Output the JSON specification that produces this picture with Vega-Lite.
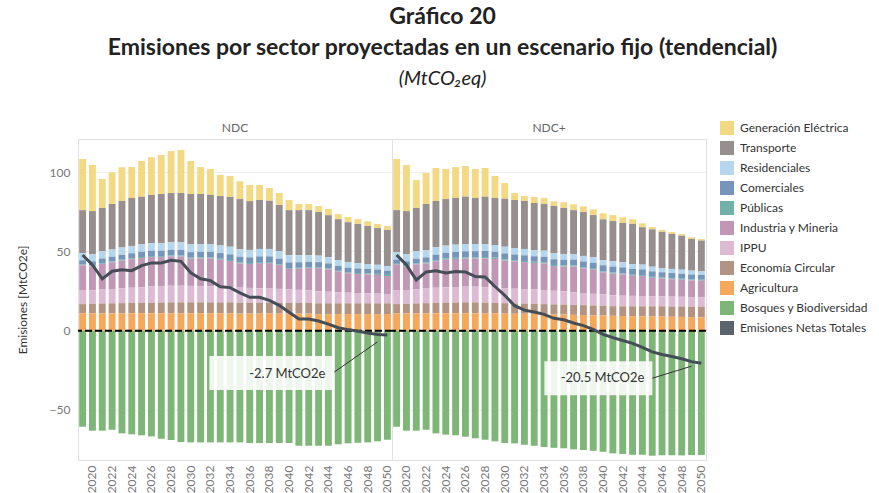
{
  "$schema": "https://vega.github.io/schema/vega-lite/v6.json",
  "background": "white",
  "padding": {"left": 16, "top": 6, "right": 5, "bottom": 0},
  "bounds": "flush",
  "title": {
    "text": ["Gráfico 20", "Emisiones por sector proyectadas en un escenario fijo (tendencial)"],
    "subtitle": "(MtCO₂eq)",
    "anchor": "middle",
    "font": "Lato", "fontSize": 23, "fontWeight": "bold", "color": "#222", "lineHeight": 31,
    "subtitleFont": "Lato", "subtitleFontSize": 20, "subtitleFontStyle": "italic", "subtitleColor": "#222", "subtitlePadding": 9,
    "offset": 32
  },
  "data": {"values": [
    {"esc":"NDC","anio":2019,"Generación Eléctrica":32.3,"Transporte":27.2,"Residenciales":4.4,"Comerciales":2.7,"Públicas":0.5,"Industria y Mineria":16.0,"IPPU":8.5,"Economía Circular":5.8,"Agricultura":11.0,"Bosques y Biodiversidad":-60.6,"Emisiones Netas Totales":47.8},
    {"esc":"NDC","anio":2020,"Generación Eléctrica":29.1,"Transporte":27.3,"Residenciales":4.4,"Comerciales":2.8,"Públicas":0.5,"Industria y Mineria":14.9,"IPPU":8.6,"Economía Circular":6.0,"Agricultura":11.0,"Bosques y Biodiversidad":-63.1,"Emisiones Netas Totales":41.5},
    {"esc":"NDC","anio":2021,"Generación Eléctrica":18.3,"Transporte":27.4,"Residenciales":4.5,"Comerciales":2.9,"Públicas":0.5,"Industria y Mineria":16.2,"IPPU":8.8,"Economía Circular":6.2,"Agricultura":11.0,"Bosques y Biodiversidad":-63.1,"Emisiones Netas Totales":32.7},
    {"esc":"NDC","anio":2022,"Generación Eléctrica":20.0,"Transporte":28.8,"Residenciales":4.5,"Comerciales":3.0,"Públicas":0.5,"Industria y Mineria":16.9,"IPPU":9.0,"Economía Circular":6.3,"Agricultura":11.0,"Bosques y Biodiversidad":-62.5,"Emisiones Netas Totales":37.5},
    {"esc":"NDC","anio":2023,"Generación Eléctrica":21.3,"Transporte":29.4,"Residenciales":4.6,"Comerciales":3.1,"Públicas":0.5,"Industria y Mineria":17.6,"IPPU":9.3,"Economía Circular":6.4,"Agricultura":11.0,"Bosques y Biodiversidad":-64.8,"Emisiones Netas Totales":38.4},
    {"esc":"NDC","anio":2024,"Generación Eléctrica":19.5,"Transporte":30.3,"Residenciales":4.6,"Comerciales":3.2,"Públicas":0.5,"Industria y Mineria":18.1,"IPPU":9.6,"Economía Circular":6.5,"Agricultura":11.0,"Bosques y Biodiversidad":-65.4,"Emisiones Netas Totales":37.9},
    {"esc":"NDC","anio":2025,"Generación Eléctrica":22.6,"Transporte":30.0,"Residenciales":4.7,"Comerciales":3.3,"Públicas":0.6,"Industria y Mineria":18.4,"IPPU":9.9,"Economía Circular":6.6,"Agricultura":11.0,"Bosques y Biodiversidad":-66.0,"Emisiones Netas Totales":41.1},
    {"esc":"NDC","anio":2026,"Generación Eléctrica":23.8,"Transporte":30.4,"Residenciales":4.8,"Comerciales":3.4,"Públicas":0.6,"Industria y Mineria":18.6,"IPPU":10.2,"Economía Circular":6.7,"Agricultura":11.0,"Bosques y Biodiversidad":-66.7,"Emisiones Netas Totales":42.8},
    {"esc":"NDC","anio":2027,"Generación Eléctrica":24.6,"Transporte":31.0,"Residenciales":4.8,"Comerciales":3.4,"Públicas":0.6,"Industria y Mineria":18.3,"IPPU":10.4,"Economía Circular":6.8,"Agricultura":11.0,"Bosques y Biodiversidad":-68.2,"Emisiones Netas Totales":42.7},
    {"esc":"NDC","anio":2028,"Generación Eléctrica":26.5,"Transporte":31.0,"Residenciales":4.9,"Comerciales":3.5,"Públicas":0.6,"Industria y Mineria":18.5,"IPPU":10.5,"Economía Circular":6.9,"Agricultura":11.0,"Bosques y Biodiversidad":-69.0,"Emisiones Netas Totales":44.4},
    {"esc":"NDC","anio":2029,"Generación Eléctrica":27.2,"Transporte":31.0,"Residenciales":4.9,"Comerciales":3.5,"Públicas":0.7,"Industria y Mineria":18.4,"IPPU":10.5,"Economía Circular":6.9,"Agricultura":11.0,"Bosques y Biodiversidad":-70.3,"Emisiones Netas Totales":43.8},
    {"esc":"NDC","anio":2030,"Generación Eléctrica":20.8,"Transporte":31.8,"Residenciales":4.9,"Comerciales":3.5,"Públicas":0.6,"Industria y Mineria":17.2,"IPPU":10.4,"Economía Circular":6.9,"Agricultura":11.0,"Bosques y Biodiversidad":-70.5,"Emisiones Netas Totales":36.6},
    {"esc":"NDC","anio":2031,"Generación Eléctrica":17.0,"Transporte":31.6,"Residenciales":4.9,"Comerciales":3.5,"Públicas":0.6,"Industria y Mineria":17.5,"IPPU":10.3,"Economía Circular":6.9,"Agricultura":11.0,"Bosques y Biodiversidad":-70.5,"Emisiones Netas Totales":32.8},
    {"esc":"NDC","anio":2032,"Generación Eléctrica":16.4,"Transporte":31.0,"Residenciales":4.9,"Comerciales":3.5,"Públicas":0.6,"Industria y Mineria":17.7,"IPPU":10.1,"Economía Circular":6.9,"Agricultura":11.0,"Bosques y Biodiversidad":-70.5,"Emisiones Netas Totales":31.6},
    {"esc":"NDC","anio":2033,"Generación Eléctrica":13.3,"Transporte":31.2,"Residenciales":4.8,"Comerciales":3.6,"Públicas":0.6,"Industria y Mineria":17.0,"IPPU":9.9,"Economía Circular":6.9,"Agricultura":11.0,"Bosques y Biodiversidad":-70.5,"Emisiones Netas Totales":27.8},
    {"esc":"NDC","anio":2034,"Generación Eléctrica":13.3,"Transporte":31.4,"Residenciales":4.8,"Comerciales":3.6,"Públicas":0.6,"Industria y Mineria":16.4,"IPPU":9.7,"Economía Circular":6.9,"Agricultura":11.0,"Bosques y Biodiversidad":-70.5,"Emisiones Netas Totales":27.2},
    {"esc":"NDC","anio":2035,"Generación Eléctrica":11.3,"Transporte":31.6,"Residenciales":4.8,"Comerciales":3.6,"Públicas":0.6,"Industria y Mineria":15.3,"IPPU":9.5,"Economía Circular":6.9,"Agricultura":10.8,"Bosques y Biodiversidad":-70.5,"Emisiones Netas Totales":23.9},
    {"esc":"NDC","anio":2036,"Generación Eléctrica":10.2,"Transporte":30.8,"Residenciales":4.7,"Comerciales":3.6,"Públicas":0.6,"Industria y Mineria":15.1,"IPPU":9.3,"Economía Circular":6.9,"Agricultura":10.8,"Bosques y Biodiversidad":-70.9,"Emisiones Netas Totales":21.1},
    {"esc":"NDC","anio":2037,"Generación Eléctrica":9.5,"Transporte":30.9,"Residenciales":4.7,"Comerciales":3.6,"Públicas":0.6,"Industria y Mineria":15.9,"IPPU":9.1,"Economía Circular":6.9,"Agricultura":10.8,"Bosques y Biodiversidad":-70.9,"Emisiones Netas Totales":21.1},
    {"esc":"NDC","anio":2038,"Generación Eléctrica":8.1,"Transporte":30.4,"Residenciales":4.7,"Comerciales":3.6,"Públicas":0.6,"Industria y Mineria":16.1,"IPPU":8.9,"Economía Circular":6.9,"Agricultura":10.8,"Bosques y Biodiversidad":-70.9,"Emisiones Netas Totales":19.2},
    {"esc":"NDC","anio":2039,"Generación Eléctrica":7.5,"Transporte":29.2,"Residenciales":4.7,"Comerciales":3.6,"Públicas":0.5,"Industria y Mineria":15.0,"IPPU":8.7,"Economía Circular":6.9,"Agricultura":10.8,"Bosques y Biodiversidad":-70.9,"Emisiones Netas Totales":16.0},
    {"esc":"NDC","anio":2040,"Generación Eléctrica":6.4,"Transporte":28.4,"Residenciales":4.6,"Comerciales":3.6,"Públicas":0.5,"Industria y Mineria":13.0,"IPPU":8.4,"Economía Circular":6.8,"Agricultura":10.8,"Bosques y Biodiversidad":-70.9,"Emisiones Netas Totales":11.6},
    {"esc":"NDC","anio":2041,"Generación Eléctrica":3.9,"Transporte":28.4,"Residenciales":4.5,"Comerciales":3.5,"Públicas":0.5,"Industria y Mineria":13.4,"IPPU":8.2,"Economía Circular":6.8,"Agricultura":10.8,"Bosques y Biodiversidad":-72.6,"Emisiones Netas Totales":7.4},
    {"esc":"NDC","anio":2042,"Generación Eléctrica":3.9,"Transporte":28.4,"Residenciales":4.3,"Comerciales":3.4,"Públicas":0.5,"Industria y Mineria":14.0,"IPPU":7.9,"Economía Circular":6.8,"Agricultura":10.8,"Bosques y Biodiversidad":-72.6,"Emisiones Netas Totales":7.4},
    {"esc":"NDC","anio":2043,"Generación Eléctrica":3.8,"Transporte":27.5,"Residenciales":4.1,"Comerciales":3.3,"Públicas":0.5,"Industria y Mineria":14.6,"IPPU":7.6,"Economía Circular":6.8,"Agricultura":10.5,"Bosques y Biodiversidad":-72.6,"Emisiones Netas Totales":6.1},
    {"esc":"NDC","anio":2044,"Generación Eléctrica":3.9,"Transporte":26.5,"Residenciales":3.9,"Comerciales":3.2,"Públicas":0.5,"Industria y Mineria":14.2,"IPPU":7.3,"Economía Circular":6.8,"Agricultura":10.5,"Bosques y Biodiversidad":-72.6,"Emisiones Netas Totales":4.2},
    {"esc":"NDC","anio":2045,"Generación Eléctrica":3.2,"Transporte":25.8,"Residenciales":3.7,"Comerciales":3.1,"Públicas":0.5,"Industria y Mineria":13.0,"IPPU":7.0,"Economía Circular":6.8,"Agricultura":10.5,"Bosques y Biodiversidad":-71.7,"Emisiones Netas Totales":1.9},
    {"esc":"NDC","anio":2046,"Generación Eléctrica":3.3,"Transporte":25.2,"Residenciales":3.5,"Comerciales":3.0,"Públicas":0.5,"Industria y Mineria":12.3,"IPPU":6.7,"Economía Circular":6.8,"Agricultura":10.5,"Bosques y Biodiversidad":-71.1,"Emisiones Netas Totales":0.7},
    {"esc":"NDC","anio":2047,"Generación Eléctrica":3.0,"Transporte":24.8,"Residenciales":3.3,"Comerciales":2.9,"Públicas":0.6,"Industria y Mineria":12.0,"IPPU":6.5,"Economía Circular":6.8,"Agricultura":10.5,"Bosques y Biodiversidad":-70.7,"Emisiones Netas Totales":-0.3},
    {"esc":"NDC","anio":2048,"Generación Eléctrica":3.0,"Transporte":24.0,"Residenciales":3.1,"Comerciales":2.8,"Públicas":0.6,"Industria y Mineria":12.0,"IPPU":6.3,"Economía Circular":6.8,"Agricultura":10.5,"Bosques y Biodiversidad":-70.5,"Emisiones Netas Totales":-1.4},
    {"esc":"NDC","anio":2049,"Generación Eléctrica":2.6,"Transporte":23.2,"Residenciales":3.0,"Comerciales":2.7,"Públicas":0.7,"Industria y Mineria":11.8,"IPPU":6.1,"Economía Circular":6.8,"Agricultura":10.5,"Bosques y Biodiversidad":-69.8,"Emisiones Netas Totales":-2.4},
    {"esc":"NDC","anio":2050,"Generación Eléctrica":2.5,"Transporte":22.8,"Residenciales":2.9,"Comerciales":2.7,"Públicas":0.7,"Industria y Mineria":11.3,"IPPU":5.9,"Economía Circular":6.8,"Agricultura":10.5,"Bosques y Biodiversidad":-68.8,"Emisiones Netas Totales":-2.7,"etiqueta":"-2.7 MtCO2e"},
    {"esc":"NDC+","anio":2019,"Generación Eléctrica":32.3,"Transporte":26.6,"Residenciales":4.6,"Comerciales":2.7,"Públicas":0.5,"Industria y Mineria":16.4,"IPPU":8.5,"Economía Circular":5.8,"Agricultura":11.0,"Bosques y Biodiversidad":-60.6,"Emisiones Netas Totales":47.8},
    {"esc":"NDC+","anio":2020,"Generación Eléctrica":29.1,"Transporte":27.1,"Residenciales":4.6,"Comerciales":2.9,"Públicas":0.5,"Industria y Mineria":14.7,"IPPU":8.7,"Economía Circular":6.0,"Agricultura":11.0,"Bosques y Biodiversidad":-63.1,"Emisiones Netas Totales":41.5},
    {"esc":"NDC+","anio":2021,"Generación Eléctrica":17.6,"Transporte":27.4,"Residenciales":4.6,"Comerciales":3.1,"Públicas":0.5,"Industria y Mineria":15.8,"IPPU":8.9,"Economía Circular":6.2,"Agricultura":11.0,"Bosques y Biodiversidad":-63.1,"Emisiones Netas Totales":32.0},
    {"esc":"NDC+","anio":2022,"Generación Eléctrica":19.6,"Transporte":29.1,"Residenciales":4.6,"Comerciales":3.3,"Públicas":0.6,"Industria y Mineria":15.8,"IPPU":9.2,"Economía Circular":6.4,"Agricultura":11.0,"Bosques y Biodiversidad":-62.5,"Emisiones Netas Totales":37.1},
    {"esc":"NDC+","anio":2023,"Generación Eléctrica":20.8,"Transporte":29.3,"Residenciales":4.6,"Comerciales":3.5,"Públicas":0.6,"Industria y Mineria":16.8,"IPPU":9.5,"Economía Circular":6.6,"Agricultura":11.0,"Bosques y Biodiversidad":-64.8,"Emisiones Netas Totales":37.9},
    {"esc":"NDC+","anio":2024,"Generación Eléctrica":19.0,"Transporte":29.4,"Residenciales":4.6,"Comerciales":3.6,"Públicas":0.7,"Industria y Mineria":17.4,"IPPU":9.7,"Economía Circular":6.7,"Agricultura":11.0,"Bosques y Biodiversidad":-65.6,"Emisiones Netas Totales":36.5},
    {"esc":"NDC+","anio":2025,"Generación Eléctrica":19.5,"Transporte":29.5,"Residenciales":4.6,"Comerciales":3.7,"Públicas":0.7,"Industria y Mineria":17.7,"IPPU":9.8,"Economía Circular":6.8,"Agricultura":11.0,"Bosques y Biodiversidad":-66.0,"Emisiones Netas Totales":37.3},
    {"esc":"NDC+","anio":2026,"Generación Eléctrica":19.4,"Transporte":29.9,"Residenciales":4.6,"Comerciales":3.8,"Públicas":0.8,"Industria y Mineria":17.7,"IPPU":9.9,"Economía Circular":6.9,"Agricultura":11.0,"Bosques y Biodiversidad":-66.9,"Emisiones Netas Totales":37.1},
    {"esc":"NDC+","anio":2027,"Generación Eléctrica":18.3,"Transporte":29.1,"Residenciales":4.5,"Comerciales":3.8,"Públicas":0.8,"Industria y Mineria":17.8,"IPPU":9.9,"Economía Circular":6.9,"Agricultura":11.0,"Bosques y Biodiversidad":-67.9,"Emisiones Netas Totales":34.2},
    {"esc":"NDC+","anio":2028,"Generación Eléctrica":18.1,"Transporte":29.9,"Residenciales":4.4,"Comerciales":3.8,"Públicas":0.8,"Industria y Mineria":18.2,"IPPU":9.8,"Economía Circular":6.8,"Agricultura":10.9,"Bosques y Biodiversidad":-68.8,"Emisiones Netas Totales":33.9},
    {"esc":"NDC+","anio":2029,"Generación Eléctrica":13.9,"Transporte":29.7,"Residenciales":4.3,"Comerciales":3.7,"Públicas":0.8,"Industria y Mineria":18.1,"IPPU":9.6,"Economía Circular":6.7,"Agricultura":10.9,"Bosques y Biodiversidad":-69.8,"Emisiones Netas Totales":27.9},
    {"esc":"NDC+","anio":2030,"Generación Eléctrica":9.9,"Transporte":30.3,"Residenciales":4.2,"Comerciales":3.7,"Públicas":0.7,"Industria y Mineria":17.5,"IPPU":9.5,"Economía Circular":6.6,"Agricultura":10.8,"Bosques y Biodiversidad":-70.9,"Emisiones Netas Totales":22.3},
    {"esc":"NDC+","anio":2031,"Generación Eléctrica":4.4,"Transporte":30.3,"Residenciales":4.1,"Comerciales":3.6,"Públicas":0.7,"Industria y Mineria":17.3,"IPPU":9.3,"Economía Circular":6.5,"Agricultura":10.7,"Bosques y Biodiversidad":-71.1,"Emisiones Netas Totales":15.8},
    {"esc":"NDC+","anio":2032,"Generación Eléctrica":3.1,"Transporte":30.3,"Residenciales":4.0,"Comerciales":3.6,"Públicas":0.7,"Industria y Mineria":17.0,"IPPU":9.2,"Economía Circular":6.4,"Agricultura":10.7,"Bosques y Biodiversidad":-72.0,"Emisiones Netas Totales":13.0},
    {"esc":"NDC+","anio":2033,"Generación Eléctrica":3.8,"Transporte":29.7,"Residenciales":3.9,"Comerciales":3.5,"Públicas":0.7,"Industria y Mineria":16.8,"IPPU":9.0,"Economía Circular":6.4,"Agricultura":10.6,"Bosques y Biodiversidad":-72.6,"Emisiones Netas Totales":11.8},
    {"esc":"NDC+","anio":2034,"Generación Eléctrica":3.7,"Transporte":29.5,"Residenciales":3.8,"Comerciales":3.5,"Públicas":0.7,"Industria y Mineria":16.8,"IPPU":8.9,"Economía Circular":6.3,"Agricultura":10.5,"Bosques y Biodiversidad":-73.4,"Emisiones Netas Totales":10.3},
    {"esc":"NDC+","anio":2035,"Generación Eléctrica":3.0,"Transporte":29.9,"Residenciales":3.7,"Comerciales":3.6,"Públicas":0.7,"Industria y Mineria":15.6,"IPPU":8.6,"Economía Circular":6.3,"Agricultura":10.3,"Bosques y Biodiversidad":-73.9,"Emisiones Netas Totales":7.8},
    {"esc":"NDC+","anio":2036,"Generación Eléctrica":3.6,"Transporte":29.1,"Residenciales":3.6,"Comerciales":3.6,"Públicas":0.7,"Industria y Mineria":15.7,"IPPU":8.3,"Economía Circular":6.3,"Agricultura":10.2,"Bosques y Biodiversidad":-74.2,"Emisiones Netas Totales":6.9},
    {"esc":"NDC+","anio":2037,"Generación Eléctrica":3.7,"Transporte":27.7,"Residenciales":3.5,"Comerciales":3.7,"Públicas":0.7,"Industria y Mineria":16.3,"IPPU":8.0,"Economía Circular":6.2,"Agricultura":10.0,"Bosques y Biodiversidad":-74.9,"Emisiones Netas Totales":4.9},
    {"esc":"NDC+","anio":2038,"Generación Eléctrica":3.6,"Transporte":27.7,"Residenciales":3.5,"Comerciales":3.7,"Públicas":0.7,"Industria y Mineria":15.5,"IPPU":7.7,"Economía Circular":6.2,"Agricultura":9.9,"Bosques y Biodiversidad":-75.3,"Emisiones Netas Totales":3.2},
    {"esc":"NDC+","anio":2039,"Generación Eléctrica":3.6,"Transporte":26.7,"Residenciales":3.4,"Comerciales":3.8,"Públicas":0.6,"Industria y Mineria":15.2,"IPPU":7.4,"Economía Circular":6.2,"Agricultura":9.7,"Bosques y Biodiversidad":-75.8,"Emisiones Netas Totales":0.8},
    {"esc":"NDC+","anio":2040,"Generación Eléctrica":3.8,"Transporte":25.7,"Residenciales":3.3,"Comerciales":3.8,"Públicas":0.6,"Industria y Mineria":14.0,"IPPU":7.2,"Economía Circular":6.1,"Agricultura":9.6,"Bosques y Biodiversidad":-76.4,"Emisiones Netas Totales":-2.3},
    {"esc":"NDC+","anio":2041,"Generación Eléctrica":3.8,"Transporte":25.4,"Residenciales":3.3,"Comerciales":3.8,"Públicas":0.6,"Industria y Mineria":13.7,"IPPU":6.9,"Economía Circular":6.1,"Agricultura":9.4,"Bosques y Biodiversidad":-77.4,"Emisiones Netas Totales":-4.4},
    {"esc":"NDC+","anio":2042,"Generación Eléctrica":3.6,"Transporte":24.8,"Residenciales":3.2,"Comerciales":3.8,"Públicas":0.6,"Industria y Mineria":13.5,"IPPU":6.7,"Economía Circular":6.1,"Agricultura":9.3,"Bosques y Biodiversidad":-77.8,"Emisiones Netas Totales":-6.2},
    {"esc":"NDC+","anio":2043,"Generación Eléctrica":2.9,"Transporte":25.3,"Residenciales":3.1,"Comerciales":3.7,"Públicas":0.6,"Industria y Mineria":12.7,"IPPU":6.6,"Economía Circular":6.2,"Agricultura":9.2,"Bosques y Biodiversidad":-78.3,"Emisiones Netas Totales":-8.0},
    {"esc":"NDC+","anio":2044,"Generación Eléctrica":2.5,"Transporte":23.6,"Residenciales":3.0,"Comerciales":3.6,"Públicas":0.6,"Industria y Mineria":12.6,"IPPU":6.5,"Economía Circular":6.3,"Agricultura":9.1,"Bosques y Biodiversidad":-78.3,"Emisiones Netas Totales":-10.5},
    {"esc":"NDC+","anio":2045,"Generación Eléctrica":1.5,"Transporte":23.6,"Residenciales":2.9,"Comerciales":3.5,"Públicas":0.6,"Industria y Mineria":11.6,"IPPU":6.4,"Economía Circular":6.4,"Agricultura":9.0,"Bosques y Biodiversidad":-78.9,"Emisiones Netas Totales":-13.4},
    {"esc":"NDC+","anio":2046,"Generación Eléctrica":1.2,"Transporte":22.8,"Residenciales":2.7,"Comerciales":3.4,"Públicas":0.6,"Industria y Mineria":11.2,"IPPU":6.3,"Economía Circular":6.5,"Agricultura":8.9,"Bosques y Biodiversidad":-78.6,"Emisiones Netas Totales":-15.0},
    {"esc":"NDC+","anio":2047,"Generación Eléctrica":1.2,"Transporte":22.1,"Residenciales":2.6,"Comerciales":3.3,"Públicas":0.6,"Industria y Mineria":11.0,"IPPU":6.2,"Economía Circular":6.5,"Agricultura":8.8,"Bosques y Biodiversidad":-78.6,"Emisiones Netas Totales":-16.3},
    {"esc":"NDC+","anio":2048,"Generación Eléctrica":1.0,"Transporte":21.5,"Residenciales":2.5,"Comerciales":3.2,"Públicas":0.6,"Industria y Mineria":10.8,"IPPU":6.1,"Economía Circular":6.6,"Agricultura":8.7,"Bosques y Biodiversidad":-78.7,"Emisiones Netas Totales":-17.7},
    {"esc":"NDC+","anio":2049,"Generación Eléctrica":1.1,"Transporte":20.0,"Residenciales":2.4,"Comerciales":3.1,"Públicas":0.6,"Industria y Mineria":10.6,"IPPU":6.0,"Economía Circular":6.6,"Agricultura":8.6,"Bosques y Biodiversidad":-78.5,"Emisiones Netas Totales":-19.5},
    {"esc":"NDC+","anio":2050,"Generación Eléctrica":1.0,"Transporte":19.4,"Residenciales":2.3,"Comerciales":3.0,"Públicas":0.6,"Industria y Mineria":10.5,"IPPU":5.9,"Economía Circular":6.7,"Agricultura":8.5,"Bosques y Biodiversidad":-78.4,"Emisiones Netas Totales":-20.5,"etiqueta":"-20.5 MtCO2e"}
  ]},
  "transform": [
    {"fold": ["Generación Eléctrica", "Transporte", "Residenciales", "Comerciales", "Públicas", "Industria y Mineria", "IPPU", "Economía Circular", "Agricultura", "Bosques y Biodiversidad"], "as": ["sector", "valor"]},
    {"lookup": "sector", "from": {"data": {"values": [
      {"sector": "Agricultura", "orden": 1},
      {"sector": "Economía Circular", "orden": 2},
      {"sector": "IPPU", "orden": 3},
      {"sector": "Industria y Mineria", "orden": 4},
      {"sector": "Públicas", "orden": 5},
      {"sector": "Comerciales", "orden": 6},
      {"sector": "Residenciales", "orden": 7},
      {"sector": "Transporte", "orden": 8},
      {"sector": "Generación Eléctrica", "orden": 9},
      {"sector": "Bosques y Biodiversidad", "orden": 10}
    ]}, "key": "sector", "fields": ["orden"]}}
  ],
  "facet": {
    "column": {
      "field": "esc", "type": "nominal", "sort": ["NDC", "NDC+"],
      "header": {"title": null, "labelFont": "Lato", "labelFontSize": 12, "labelColor": "#666", "labelPadding": 4}
    }
  },
  "spacing": 0,
  "spec": {
    "width": 314,
    "height": 321,
    "layer": [
      {
        "mark": {"type": "bar"},
        "encoding": {
          "x": {"field": "anio", "type": "ordinal", "title": null,
                "scale": {"paddingInner": 0.3, "paddingOuter": 0.12},
                "axis": {"labelAngle": 270, "labelExpr": "datum.value % 2 === 0 ? datum.label : ''", "labelPadding": 5, "grid": false, "labelColor": "#777", "labelFontSize": 12}},
          "y": {"field": "valor", "type": "quantitative", "stack": "zero", "title": "Emisiones [MtCO2e]",
                "scale": {"domain": [-81.6, 121], "nice": false, "zero": false},
                "axis": {"values": [-50, 0, 50, 100], "grid": true, "gridColor": "#efefef", "labelPadding": 8, "titlePadding": 20}},
          "order": {"field": "orden", "type": "quantitative"},
          "color": {
            "field": "sector", "type": "nominal",
            "scale": {
              "domain": ["Generación Eléctrica", "Transporte", "Residenciales", "Comerciales", "Públicas", "Industria y Mineria", "IPPU", "Economía Circular", "Agricultura", "Bosques y Biodiversidad", "Emisiones Netas Totales"],
              "range": ["#f4d985", "#968f8e", "#b5d6ed", "#7596ba", "#71afab", "#c197b6", "#ddbad4", "#b39483", "#f5a75a", "#7db676", "#5a636e"]
            },
            "legend": {"title": null, "orient": "none", "legendX": 642, "legendY": -18, "symbolType": "square", "symbolSize": 196, "symbolStrokeWidth": 0, "labelFont": "Lato", "labelFontSize": 12, "labelColor": "#333", "rowPadding": 6, "labelOffset": 6}
          }
        }
      },
      {
        "transform": [{"filter": {"and": [{"field": "anio", "equal": 2050}, {"field": "sector", "equal": "Agricultura"}]}}],
        "mark": {"type": "rule", "color": "#000", "strokeWidth": 2, "strokeDash": [7, 3]},
        "encoding": {"y": {"datum": 0}}
      },
      {
        "transform": [{"filter": {"field": "sector", "equal": "Agricultura"}}],
        "mark": {"type": "line", "color": "#454d57", "strokeWidth": 3},
        "encoding": {
          "x": {"field": "anio", "type": "ordinal"},
          "y": {"field": "Emisiones Netas Totales", "type": "quantitative", "title": "Emisiones [MtCO2e]"}
        }
      },
      {
        "transform": [{"filter": {"and": [{"field": "anio", "equal": 2050}, {"field": "sector", "equal": "Agricultura"}, {"field": "esc", "equal": "NDC"}]}}],
        "mark": {"type": "point", "shape": "M-178,21H-55V55H-178Z", "size": 4, "filled": true, "color": "white", "fillOpacity": 0.87, "strokeWidth": 0, "opacity": 1},
        "encoding": {
          "x": {"field": "anio", "type": "ordinal"},
          "y": {"field": "Emisiones Netas Totales", "type": "quantitative", "title": "Emisiones [MtCO2e]"}
        }
      },
      {
        "transform": [{"filter": {"and": [{"field": "anio", "equal": 2050}, {"field": "sector", "equal": "Agricultura"}, {"field": "esc", "equal": "NDC+"}]}}],
        "mark": {"type": "point", "shape": "M-157,-2H-49V32H-157Z", "size": 4, "filled": true, "color": "white", "fillOpacity": 0.87, "strokeWidth": 0, "opacity": 1},
        "encoding": {
          "x": {"field": "anio", "type": "ordinal"},
          "y": {"field": "Emisiones Netas Totales", "type": "quantitative", "title": "Emisiones [MtCO2e]"}
        }
      },
      {
        "transform": [{"filter": {"and": [{"field": "anio", "equal": 2050}, {"field": "sector", "equal": "Agricultura"}, {"field": "esc", "equal": "NDC"}]}}],
        "mark": {"type": "point", "shape": "M-53,37L-10,7", "size": 4, "filled": false, "color": "#333", "strokeWidth": 1, "opacity": 1},
        "encoding": {
          "x": {"field": "anio", "type": "ordinal"},
          "y": {"field": "Emisiones Netas Totales", "type": "quantitative", "title": "Emisiones [MtCO2e]"}
        }
      },
      {
        "transform": [{"filter": {"and": [{"field": "anio", "equal": 2050}, {"field": "sector", "equal": "Agricultura"}, {"field": "esc", "equal": "NDC+"}]}}],
        "mark": {"type": "point", "shape": "M-49,15L-10,3", "size": 4, "filled": false, "color": "#333", "strokeWidth": 1, "opacity": 1},
        "encoding": {
          "x": {"field": "anio", "type": "ordinal"},
          "y": {"field": "Emisiones Netas Totales", "type": "quantitative", "title": "Emisiones [MtCO2e]"}
        }
      },
      {
        "transform": [{"filter": {"and": [{"field": "anio", "equal": 2050}, {"field": "sector", "equal": "Agricultura"}, {"field": "esc", "equal": "NDC"}]}}],
        "mark": {"type": "text", "align": "right", "baseline": "middle", "dx": -62, "dy": 39, "font": "Lato", "fontSize": 13, "color": "#333"},
        "encoding": {
          "x": {"field": "anio", "type": "ordinal"},
          "y": {"field": "Emisiones Netas Totales", "type": "quantitative", "title": "Emisiones [MtCO2e]"},
          "text": {"field": "etiqueta"}
        }
      },
      {
        "transform": [{"filter": {"and": [{"field": "anio", "equal": 2050}, {"field": "sector", "equal": "Agricultura"}, {"field": "esc", "equal": "NDC+"}]}}],
        "mark": {"type": "text", "align": "right", "baseline": "middle", "dx": -57, "dy": 15, "font": "Lato", "fontSize": 13, "color": "#333"},
        "encoding": {
          "x": {"field": "anio", "type": "ordinal"},
          "y": {"field": "Emisiones Netas Totales", "type": "quantitative", "title": "Emisiones [MtCO2e]"},
          "text": {"field": "etiqueta"}
        }
      }
    ]
  },
  "config": {
    "font": "Lato",
    "view": {"stroke": "#e0e0e0"},
    "axis": {"labelFont": "Lato", "labelFontSize": 12, "labelColor": "#777", "titleFont": "Lato", "titleFontSize": 12, "titleColor": "#333", "titleFontWeight": "normal", "domain": false, "ticks": false}
  }
}
